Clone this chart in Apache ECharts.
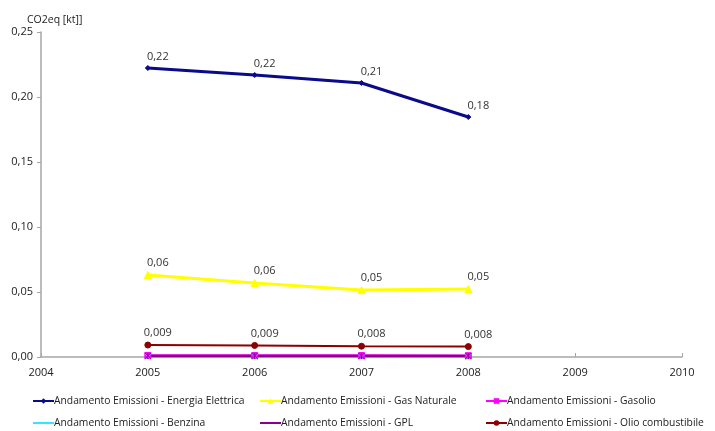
<!DOCTYPE html>
<html>
<head>
<meta charset="utf-8">
<script src="https://cdn.jsdelivr.net/npm/echarts@6/dist/echarts.min.js"></script>
<style>
  html, body { margin: 0; padding: 0; background: #fff; }
  #chart { width: 715px; height: 431px; }
</style>
</head>
<body>
<div id="chart"></div>
<script>
// Emission trend per energy carrier, CO2eq in kt
const years = [2005, 2006, 2007, 2008];
const energiaElettrica = [0.2223, 0.2169, 0.2108, 0.1846];
const gasNaturale = [0.0631, 0.0569, 0.0515, 0.0523];
const gasolio = [0.0012, 0.0011, 0.0011, 0.0010];
const benzina = [0.0002, 0.0001, 0.0001, 0.0001];
const gpl = [0.0008, 0.0008, 0.0007, 0.0007];
const olioCombustibile = [0.0092, 0.0089, 0.0083, 0.0080];

const yTicks = [0, 0.05, 0.10, 0.15, 0.20, 0.25];

const seriesDefs = [
  { name: 'Andamento Emissioni - Energia Elettrica', data: energiaElettrica, color: '#0a0a8c', symbol: 'diamond', size: 5, width: 3, digits: 2 },
  { name: 'Andamento Emissioni - Gas Naturale', data: gasNaturale, color: '#ffff00', symbol: 'triangle', size: 7, width: 3, digits: 2 },
  { name: 'Andamento Emissioni - Gasolio', data: gasolio, color: '#ff00ff', symbol: 'rect', size: 6, width: 2.5, digits: null },
  { name: 'Andamento Emissioni - Benzina', data: benzina, color: '#33e6ff', symbol: 'path://M0,0L10,10M10,0L0,10', size: 6, width: 1.5, digits: null },
  { name: 'Andamento Emissioni - GPL', data: gpl, color: '#8b008b', symbol: 'path://M0,0L10,10M10,0L0,10M5,0L5,10', size: 6, width: 2.5, digits: null },
  { name: 'Andamento Emissioni - Olio combustibile', data: olioCombustibile, color: '#8b0000', symbol: 'circle', size: 6, width: 2, digits: 3 }
];

const fmt = (v, d) => v.toFixed(d).replace('.', ',');
const font = '"Open Sans", "Liberation Sans", sans-serif';

const series = seriesDefs.map(s => ({
  name: s.name,
  type: 'line',
  data: years.map((y, i) => [y, s.data[i]]),
  symbol: s.symbol,
  symbolSize: s.size,
  showSymbol: true,
  lineStyle: { color: s.color, width: s.width },
  itemStyle: { color: s.color, borderColor: s.color },
  label: s.digits === null ? { show: false } : {
    show: true,
    position: 'top',
    offset: [10, 2],
    color: '#333',
    fontFamily: font,
    fontSize: 11,
    formatter: p => fmt(p.value[1], s.digits)
  },
  emphasis: { disabled: true },
  z: s.digits === null ? 3 : 2
}));

// Legend layout: two rows of three entries
const legendPos = [
  [32, 396], [259, 396], [485, 396],
  [32, 418], [259, 418], [485, 418]
];
const legends = seriesDefs.map((s, i) => ({
  data: [s.name],
  left: legendPos[i][0],
  top: legendPos[i][1],
  padding: 0,
  itemWidth: 21,
  itemHeight: 7,
  itemGap: 0,
  textStyle: { color: '#222', fontFamily: font, fontSize: 10.3, padding: [0, 0, 0, -5] },
  selectedMode: false
}));

const chart = echarts.init(document.getElementById('chart'), null, { renderer: 'canvas' });
chart.setOption({
  backgroundColor: '#fff',
  animation: false,
  grid: { left: 41, right: 33, top: 32, bottom: 74 },
  legend: legends,
  xAxis: {
    type: 'value',
    min: 2004,
    max: 2010,
    interval: 1,
    axisLine: { lineStyle: { color: '#a6a6a6', width: 1.5 } },
    axisTick: { show: true, inside: true, length: 4, lineStyle: { color: '#a6a6a6' } },
    splitLine: { show: false },
    axisLabel: { color: '#222', fontFamily: font, fontSize: 11, margin: 10, formatter: v => String(v) }
  },
  yAxis: {
    type: 'value',
    min: yTicks[0],
    max: yTicks[yTicks.length - 1],
    interval: 0.05,
    name: 'CO2eq [kt]]',
    nameLocation: 'end',
    nameGap: 6,
    nameTextStyle: { color: '#222', fontFamily: font, fontSize: 10.5, align: 'left', padding: [0, 0, 0, -14] },
    axisLine: { show: true, lineStyle: { color: '#a6a6a6', width: 1.5 } },
    axisTick: { show: true, length: 4, lineStyle: { color: '#a6a6a6' } },
    splitLine: { show: false },
    axisLabel: { color: '#222', fontFamily: font, fontSize: 11, margin: 8, formatter: v => fmt(v, 2) }
  },
  series: series
});
</script>
</body>
</html>
